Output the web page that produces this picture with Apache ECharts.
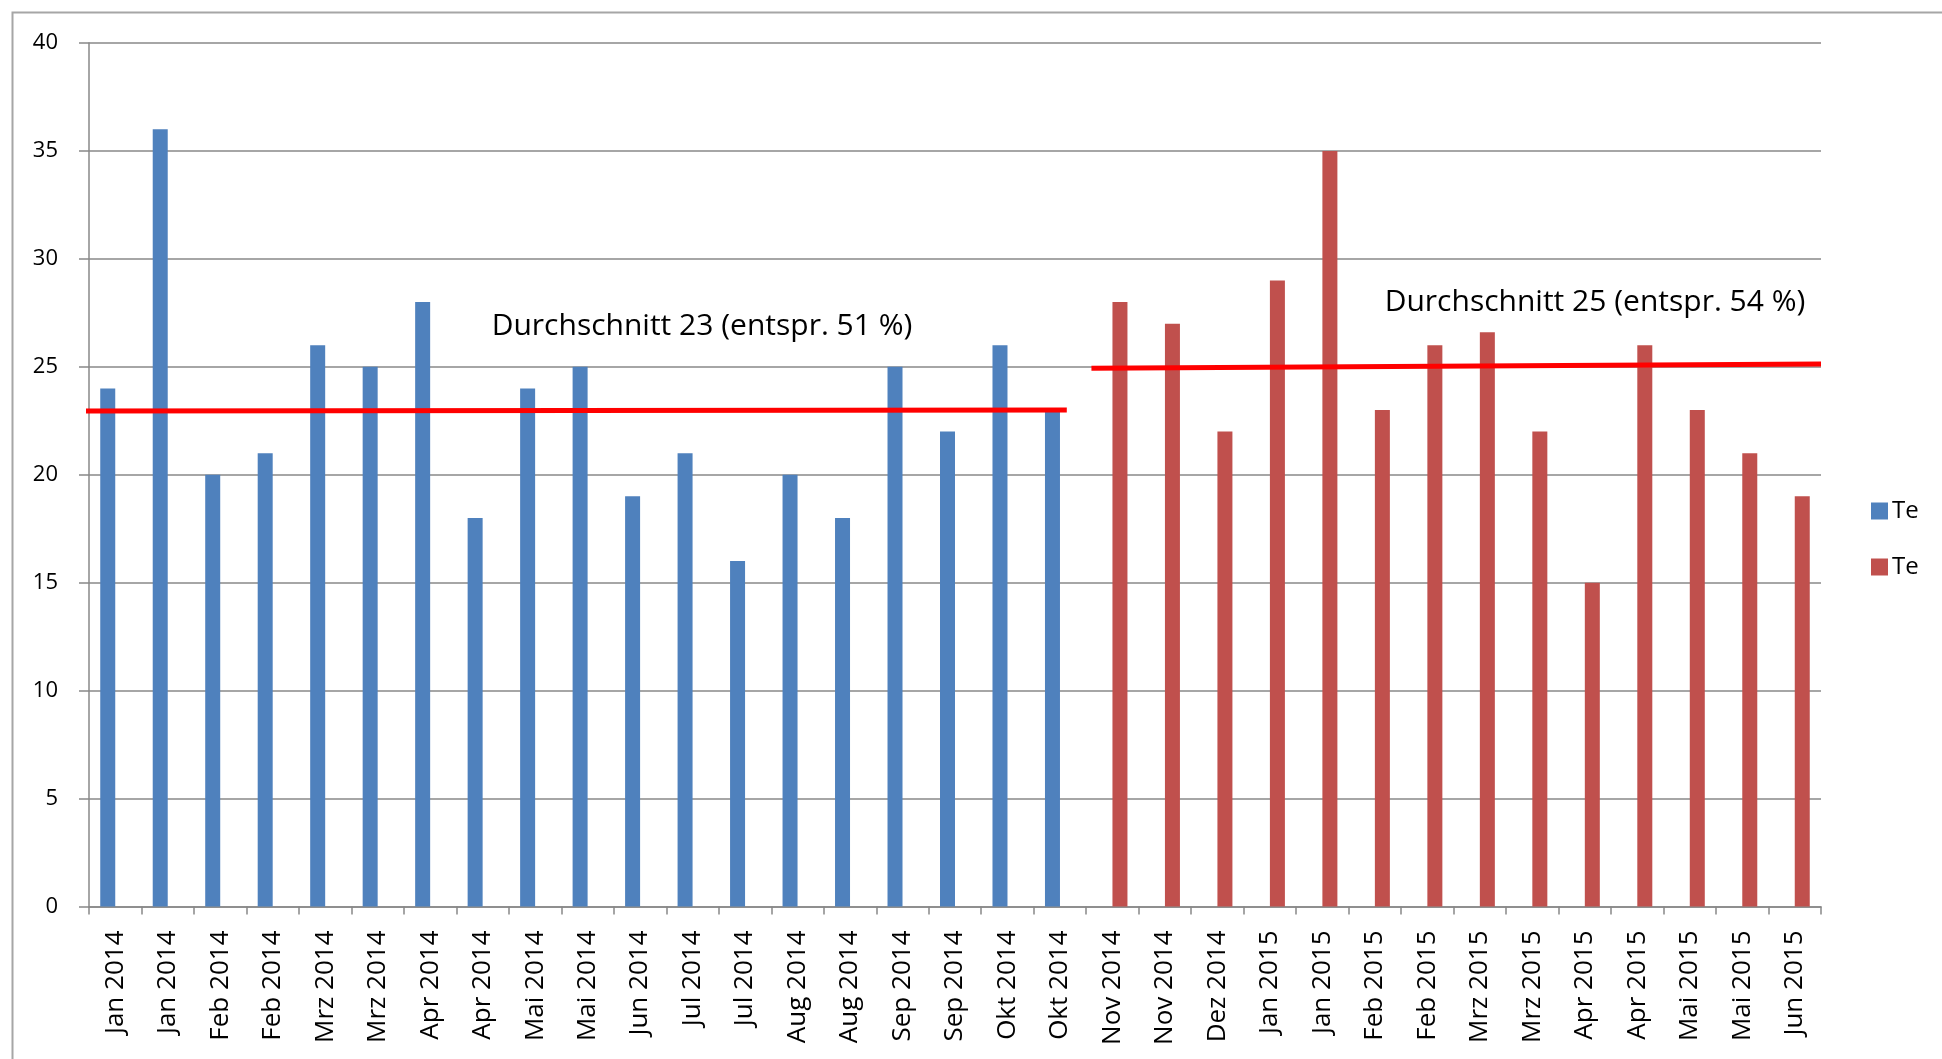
<!DOCTYPE html>
<html>
<head>
<meta charset="utf-8">
<script src="https://cdn.jsdelivr.net/npm/echarts@6/dist/echarts.min.js"></script>
<style>
html,body{margin:0;padding:0;background:#fff;}
#chart{width:1942px;height:1059px;}
</style>
</head>
<body>
<div id="chart"></div>
<script>
const categories = [
  'Jan 2014','Jan 2014','Feb 2014','Feb 2014','Mrz 2014','Mrz 2014','Apr 2014','Apr 2014',
  'Mai 2014','Mai 2014','Jun 2014','Jul 2014','Jul 2014','Aug 2014','Aug 2014','Sep 2014',
  'Sep 2014','Okt 2014','Okt 2014','Nov 2014','Nov 2014','Dez 2014','Jan 2015','Jan 2015',
  'Feb 2015','Feb 2015','Mrz 2015','Mrz 2015','Apr 2015','Apr 2015','Mai 2015','Mai 2015','Jun 2015'
];
const blueValues = [24,36,20,21,26,25,28,18,24,25,19,21,16,20,18,25,22,26,23];
const redValues = [28,27,22,29,35,23,26,26.6,22,15,26,23,21,19];
const yTicks = { min: 0, max: 40, interval: 5 };
const legendNames = ['Te','Te '];
// average lines, in category-index units (x) and values (y)
const avg1X = [-0.71, 18.13];
const avg1Y = [22.95, 23.0];
const avg2X = [18.6, 32.5];
const avg2Y = [24.93, 25.13];
const avgTexts = ['Durchschnitt 23 (entspr. 51 %)', 'Durchschnitt 25 (entspr. 54 %)'];

const blueData = categories.map((c, i) => i < blueValues.length ? blueValues[i] : '-');
const redData = categories.map((c, i) => i >= blueValues.length ? redValues[i - blueValues.length] : '-');

const FONT = '"Open Sans", "Liberation Sans", sans-serif';
const chart = echarts.init(document.getElementById('chart'), null, {renderer: 'canvas'});
chart.setOption({
  animation: false,
  backgroundColor: '#ffffff',
  textStyle: { fontFamily: FONT },
  grid: { left: 89, right: 121, top: 43, bottom: 152.5, containLabel: false },
  legend: {
    orient: 'vertical',
    left: 1866,
    top: 494,
    itemWidth: 17,
    itemHeight: 17,
    itemGap: 32,
    icon: 'rect',
    data: legendNames,
    textStyle: { fontFamily: FONT, fontSize: 24, color: '#000', padding: [0,0,0,-1] }
  },
  xAxis: [
    {
      type: 'category',
      data: categories,
      boundaryGap: true,
      axisLine: { show: true, onZero: false, lineStyle: { color: '#888', width: 1.5 } },
      axisTick: { show: true, length: 8, lineStyle: { color: '#888', width: 1.5 } },
      axisLabel: { rotate: 90, interval: 0, margin: 24, fontFamily: FONT, fontSize: 26, color: '#000' },
      splitLine: { show: false }
    },
    {
      type: 'value',
      min: -0.5,
      max: 32.5,
      show: false
    }
  ],
  yAxis: {
    type: 'value',
    min: yTicks.min,
    max: yTicks.max,
    interval: yTicks.interval,
    axisLine: { show: true, onZero: false, lineStyle: { color: '#888', width: 1.5 } },
    axisTick: { show: true, length: 10, lineStyle: { color: '#888', width: 1.5 } },
    axisLabel: { margin: 31, fontFamily: FONT, fontSize: 22, color: '#000' },
    splitLine: { show: true, lineStyle: { color: '#888', width: 1.5 } }
  },
  series: [
    {
      name: legendNames[0], type: 'bar', data: blueData, barWidth: 15, barGap: '0%',
      itemStyle: { color: '#4F81BD' }
    },
    {
      name: legendNames[1], type: 'bar', data: redData, barWidth: 15, barGap: '0%',
      itemStyle: { color: '#C0504D' }
    },
    {
      type: 'line', xAxisIndex: 1, clip: false, symbol: 'none', silent: true,
      data: avg1X.map((x, i) => [x, avg1Y[i]]),
      lineStyle: { color: '#FF0000', width: 5 }, z: 5
    },
    {
      type: 'line', xAxisIndex: 1, clip: false, symbol: 'none', silent: true,
      data: avg2X.map((x, i) => [x, avg2Y[i]]),
      lineStyle: { color: '#FF0000', width: 5 }, z: 5
    }
  ],
  graphic: [
    { type: 'rect', left: 10, top: 10, shape: { width: 2000, height: 2000 }, style: { fill: 'none', stroke: '#a6a6a6', lineWidth: 2 }, silent: true, z: -1 },
    { type: 'text', x: 702, y: 326, style: { text: avgTexts[0], fontFamily: FONT, fontSize: 30, fill: '#000', align: 'center', verticalAlign: 'middle' } },
    { type: 'text', x: 1595, y: 302, style: { text: avgTexts[1], fontFamily: FONT, fontSize: 30, fill: '#000', align: 'center', verticalAlign: 'middle' } }
  ]
});
</script>
</body>
</html>
